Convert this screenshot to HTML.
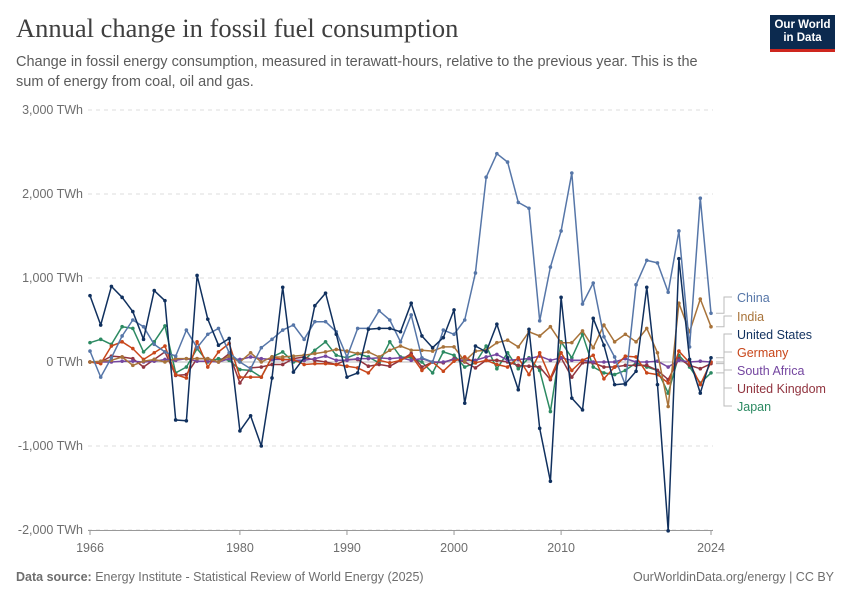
<!DOCTYPE html>
<html><head><meta charset="utf-8"><style>
body{margin:0;background:#fff;font-family:"Liberation Sans",sans-serif;}
#wrap{position:relative;width:850px;height:600px;overflow:hidden;}
.title{position:absolute;left:16px;top:13px;font-family:"Liberation Serif",serif;font-size:26.5px;color:#3f3f3f;}
.sub{position:absolute;left:16px;top:52px;width:705px;font-size:14.5px;line-height:20px;color:#5b5b5b;}
.logo{position:absolute;left:770px;top:15px;width:65px;height:37px;background:#0c2a4f;color:#fff;font-size:11.5px;font-weight:bold;text-align:center;line-height:13px;padding-top:4px;box-sizing:border-box;border-bottom:3px solid #ce261e;}
.foot{position:absolute;top:570px;font-size:12.5px;color:#6e6e6e;}
</style></head><body>
<div id="wrap">
<div class="title">Annual change in fossil fuel consumption</div>
<div class="sub">Change in fossil energy consumption, measured in terawatt-hours, relative to the previous year. This is the sum of energy from coal, oil and gas.</div>
<div class="logo">Our World<br>in Data</div>
<svg id="chart" width="850" height="600" style="position:absolute;left:0;top:0"></svg>
<div class="foot" style="left:16px"><b>Data source:</b> Energy Institute - Statistical Review of World Energy (2025)</div>
<div class="foot" style="right:16px">OurWorldinData.org/energy | CC BY</div>
</div>
<script>
const startYear=1966;
const yTicks=[3000,2000,1000,0,-1000,-2000];
const yTickLabels=["3,000 TWh","2,000 TWh","1,000 TWh","0 TWh","-1,000 TWh","-2,000 TWh"];
const xTicks=[1966,1980,1990,2000,2010,2024];
const seriesNames=["China","India","United States","Germany","South Africa","United Kingdom","Japan"];
const chinaValues=[130,-180,50,310,500,420,210,120,70,380,170,330,400,110,0,-80,170,270,380,440,270,480,480,360,60,400,400,610,500,240,560,50,0,380,330,500,1060,2200,2480,2380,1900,1830,490,1130,1560,2250,690,940,300,60,-270,920,1210,1180,830,1560,180,1950,580];
const indiaValues=[0,10,20,60,-40,10,30,0,40,40,40,40,0,70,0,110,0,60,60,70,80,100,120,150,130,100,120,60,140,190,140,140,130,180,180,10,130,140,230,260,180,360,310,420,230,230,370,170,440,240,330,240,400,110,-530,700,360,750,420];
const usValues=[790,440,900,770,600,270,850,730,-690,-700,1030,510,200,280,-820,-640,-1000,-190,890,-120,50,670,820,330,-180,-130,390,400,400,360,700,310,170,290,620,-490,190,120,450,50,-330,390,-790,-1420,770,-430,-570,520,200,-270,-260,-110,890,-270,-2010,1230,30,-370,50];
const germanyValues=[0,-20,190,240,160,30,110,190,-150,-190,240,-60,120,220,-180,-180,-180,60,30,30,-30,-20,-20,-30,-50,-70,-130,20,-10,20,80,-100,0,-110,10,60,-10,20,-30,-60,50,-150,110,-190,110,-100,20,80,-200,-60,70,60,-130,-150,-250,130,-10,-270,0];
const southAfricaValues=[0,0,0,10,10,0,10,30,20,40,10,10,0,40,30,60,40,30,30,20,20,40,70,20,20,40,40,50,40,50,20,40,0,0,30,20,20,60,90,20,30,40,70,20,50,20,20,0,0,0,40,0,0,10,-60,20,0,10,0];
const ukValues=[0,0,70,60,40,-60,30,120,-160,-150,40,40,0,100,-250,-70,-60,-30,-30,40,60,20,0,-30,30,30,-50,-30,-50,20,100,-60,0,-10,40,0,-70,20,20,0,-40,-50,-60,-210,50,-180,-10,-10,-60,-60,-40,-40,-40,-100,-210,40,-40,-80,-20];
const japanValues=[230,270,210,420,400,120,240,430,-130,-60,160,0,40,20,-90,-100,-180,60,120,0,20,140,240,80,50,100,60,-10,240,60,50,0,-130,120,80,-60,-10,190,-80,110,-80,50,-100,-590,240,50,330,-60,-130,-150,-100,-10,-60,-100,-370,80,-60,-250,-130];
const allValues=[chinaValues,indiaValues,usValues,germanyValues,southAfricaValues,ukValues,japanValues];
const colors=["#5676a8","#a8733a","#10305e","#c8461a","#7446a0","#91343f","#2c8a62"];
const labelY=[301,320,338,356,374,392,410];

const NS="http://www.w3.org/2000/svg";
const svg=document.getElementById('chart');
const X0=90,X1=711,Y0=362,PX=0.084;
const nYears=chinaValues.length;
function xs(i){return X0+i*(X1-X0)/(nYears-1);}
function ys(v){return Y0-v*PX;}
function mk(t,a){const e=document.createElementNS(NS,t);for(const k in a)e.setAttribute(k,a[k]);svg.appendChild(e);return e;}

yTicks.forEach((v,i)=>{
  const l=mk('line',{x1:88,x2:713,y1:ys(v),y2:ys(v),stroke:v===0?'#b8b8b8':'#dddddd','stroke-dasharray':v===0?'':'4,4'});
  
  
  const t=mk('text',{x:83,y:ys(v)+4,'text-anchor':'end','font-size':12.5,fill:'#6e6e6e'});
  t.textContent=yTickLabels[i];
  
  
});
const ax=mk('line',{x1:88,x2:713,y1:530.5,y2:530.5,stroke:'#999'});


xTicks.forEach(yr=>{
  const x=xs(yr-startYear);
  const tk=mk('line',{x1:x,x2:x,y1:530,y2:535,stroke:'#999'});
  
  
  const t=mk('text',{x:x,y:552,'text-anchor':'middle','font-size':12.5,fill:'#6e6e6e'});
  t.textContent=yr;
  
  
});
[6,5,4,3,1,0,2].forEach(s=>{
  const vals=allValues[s];
  const pts=vals.map((v,i)=>xs(i).toFixed(1)+','+ys(v).toFixed(1)).join(' ');
  const pl=mk('polyline',{points:pts,fill:'none',stroke:colors[s],'stroke-width':1.5,'stroke-linejoin':'round'});
  
  
  vals.forEach((v,i)=>{
    const c=mk('circle',{cx:xs(i),cy:ys(v),r:1.8,fill:colors[s]});
    
    
  });
});
seriesNames.forEach((n,s)=>{
  const vals=allValues[s];
  const ey=ys(vals[vals.length-1]);
  const ly=labelY[s]-4;
  const c=mk('polyline',{points:`716,${ey} 724,${ey} 724,${ly} 732,${ly}`,fill:'none',stroke:'#bbb','stroke-width':1});
  
  
  const t=mk('text',{x:737,y:labelY[s]+1,'font-size':12.5,fill:colors[s]});
  t.textContent=n;
  
  
});
</script>
</body></html>
